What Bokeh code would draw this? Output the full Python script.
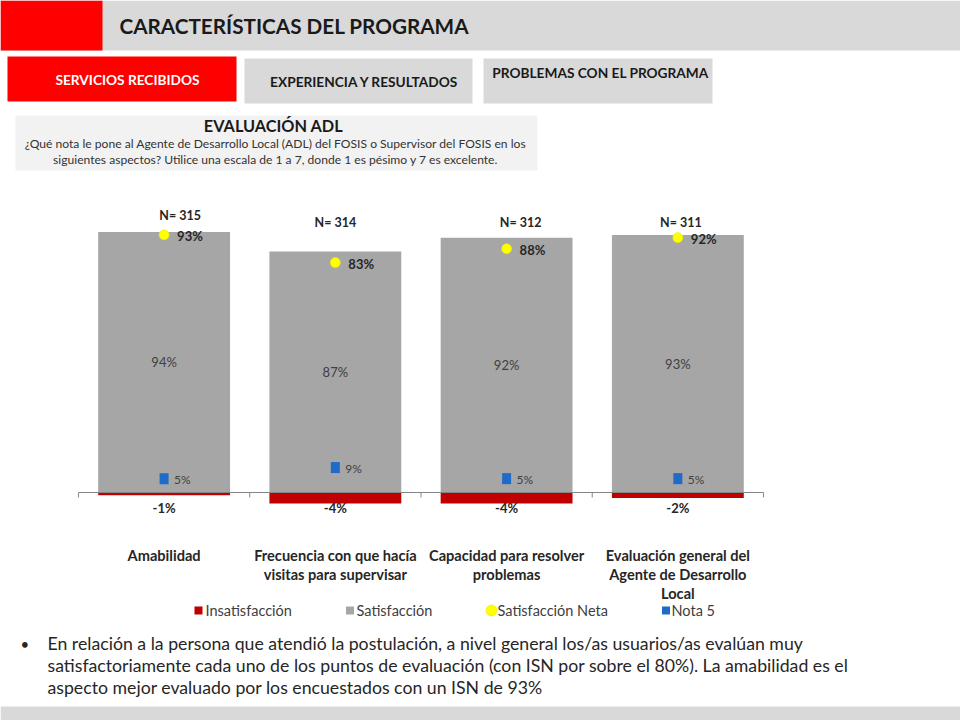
from bokeh.plotting import figure
from bokeh.models import Range1d
from bokeh.core.properties import value
from bokeh.embed import file_html
from bokeh.resources import INLINE

# ---------------- data ----------------
categories = ["Amabilidad",
              "Frecuencia con que hacía\nvisitas para supervisar",
              "Capacidad para resolver\nproblemas",
              "Evaluación general del\nAgente de Desarrollo\nLocal"]
insatisfaccion = [-1, -4, -4, -2]
satisfaccion = [94, 87, 92, 93]
satisfaccion_neta = [93, 83, 88, 92]
nota5 = [5, 9, 5, 5]
n_casos = [315, 314, 312, 311]
legend_labels = ["Insatisfacción", "Satisfacción", "Satisfacción Neta", "Nota 5"]

# ---------------- styles ----------------
RED = "#C00000"
GREY_BAR = "#A6A6A6"
YELLOW = "#FFFF00"
BLUE = "#1F6BC7"
BAND = "#D9D9D9"
FONT = value("Lato")
TXT = "#262626"

W, H = 960, 720
p = figure(width=W, height=H, output_backend="svg", toolbar_location=None,
           x_range=Range1d(0, W), y_range=Range1d(H, 0),
           min_border=0, outline_line_color=None, background_fill_color="white",
           border_fill_color="white")
p.axis.visible = False
p.grid.visible = False

# chart scales: percent axis (zero at y=492 px, 2.77 px per %) and category index
PX = 2.77
ZERO = 492
p.extra_y_ranges = {"pct": Range1d(-(H - ZERO) / PX, ZERO / PX)}
C0, CW = 163.6, 171.25
p.extra_x_ranges = {"cat": Range1d(-C0 / CW, (W - C0) / CW)}

def txt(x, y, s, size, bold=False, color=TXT, align="left", baseline="middle", **kw):
    p.text(x=[x], y=[y], text=[s], text_font=FONT, text_font_size=value(size),
           text_font_style="bold" if bold else "normal", text_color=color,
           text_align=align, text_baseline=baseline, **kw)

# ---------------- slide decoration ----------------
p.quad(left=[0], right=[960], top=[0], bottom=[50], fill_color=BAND, line_color=None)
p.quad(left=[0], right=[102], top=[0], bottom=[50], fill_color="#FF0000", line_color=None)
txt(119, 25, "CARACTERÍSTICAS DEL PROGRAMA", "20.7px", bold=True, color="#1a1a1a")

p.quad(left=[7], right=[236], top=[56], bottom=[101], fill_color="#FF0000", line_color=None)
txt(127, 79, "SERVICIOS RECIBIDOS", "13.7px", bold=True, color="white", align="center")
p.quad(left=[244], right=[472], top=[58], bottom=[103], fill_color=BAND, line_color=None)
txt(364, 81, "EXPERIENCIA Y RESULTADOS", "13.7px", bold=True, color="#1a1a1a", align="center")
p.quad(left=[483], right=[712], top=[58], bottom=[103], fill_color=BAND, line_color=None)
txt(600, 72, "PROBLEMAS CON EL PROGRAMA", "13.7px", bold=True, color="#1a1a1a", align="center")

p.quad(left=[15], right=[537], top=[115], bottom=[170], fill_color="#F2F2F2", line_color=None)
txt(273, 125, "EVALUACIÓN ADL", "16.3px", bold=True, color="#1a1a1a", align="center")
txt(275, 143, "¿Qué nota le pone al Agente de Desarrollo Local (ADL) del FOSIS o Supervisor del FOSIS en los",
    "12.1px", color="#333333", align="center")
txt(275, 159, "siguientes aspectos? Utilice una escala de 1 a 7, donde 1 es pésimo y 7 es excelente.",
    "12.1px", color="#333333", align="center")

# ---------------- chart ----------------
idx = list(range(len(categories)))
CR = dict(x_range_name="cat", y_range_name="pct")

p.vbar(x=idx, bottom=0, top=satisfaccion, width=0.77, fill_color=GREY_BAR, line_color=None, **CR)
p.vbar(x=idx, bottom=insatisfaccion, top=0, width=0.77, fill_color=RED, line_color=None, **CR)

# category axis line and ticks
nb = len(categories) + 1
p.segment(x0=[-0.5], y0=[0], x1=[len(categories) - 0.5], y1=[0], line_color="#868686", line_width=1, **CR)
p.segment(x0=[i - 0.5 for i in range(nb)], y0=[ZERO] * nb,
          x1=[i - 0.5 for i in range(nb)], y1=[ZERO + 5] * nb,
          line_color="#868686", line_width=1, x_range_name="cat")

# satisfaction labels (middle of bar)
p.text(x=idx, y=[v / 2 for v in satisfaccion], text=[f"{v}%" for v in satisfaccion],
       text_font=FONT, text_font_size=value("13px"), text_color="#404040",
       text_align="center", text_baseline="middle", **CR)

# insatisfaction labels (below axis)
p.text(x=idx, y=[0] * len(idx), text=[f"{v}%" for v in insatisfaccion],
       text_font=FONT, text_font_size=value("13px"), text_font_style="bold", text_color=TXT,
       text_align="center", text_baseline="middle", y_offset=15, **CR)

# Satisfacción Neta points
p.scatter(x=idx, y=satisfaccion_neta, marker="circle", size=10, fill_color=YELLOW,
          line_color="#EAEA00", line_width=0.6, **CR)
p.text(x=idx, y=satisfaccion_neta, text=[f"{v}%" for v in satisfaccion_neta],
       text_font=FONT, text_font_size=value("13px"), text_font_style="bold", text_color=TXT,
       text_align="left", text_baseline="middle", x_offset=13, y_offset=1, **CR)

# Nota 5 points
p.rect(x=idx, y=nota5, width=9, height=11, width_units="screen", height_units="screen",
       fill_color=BLUE, line_color=None, **CR)
p.text(x=idx, y=nota5, text=[f"{v}%" for v in nota5],
       text_font=FONT, text_font_size=value("12px"), text_color="#404040",
       text_align="left", text_baseline="middle", x_offset=10, y_offset=1, **CR)

# N= labels
n_dx = [16, 0, 14, 3]
n_y = [215, 222, 222, 222]
p.text(x=idx, y=n_y, text=[f"N= {v}" for v in n_casos], x_offset=n_dx,
       text_font=FONT, text_font_size=value("12.5px"), text_font_style="bold", text_color=TXT,
       text_align="center", text_baseline="middle", x_range_name="cat")

# category labels
p.text(x=idx, y=[0] * len(idx), text=categories,
       text_font=FONT, text_font_size=value("14.6px"), text_font_style="bold", text_color=TXT,
       text_align="center", text_baseline="top", text_line_height=1.13, y_offset=54, **CR)

# legend
LY = 610
p.rect(x=[198], y=[LY], width=8, height=8, fill_color=RED, line_color=None)
txt(205, LY, legend_labels[0], "14.5px", color="#404040")
p.rect(x=[349.5], y=[LY], width=8, height=8, fill_color=GREY_BAR, line_color=None)
txt(356, LY, legend_labels[1], "14.5px", color="#404040")
p.scatter(x=[491], y=[LY], marker="circle", size=11, fill_color=YELLOW, line_color="#EAEA00", line_width=0.6)
txt(497, LY, legend_labels[2], "14.5px", color="#404040")
p.rect(x=[665.5], y=[LY], width=8, height=8, fill_color=BLUE, line_color=None)
txt(671, LY, legend_labels[3], "14.5px", color="#404040")

# ---------------- bottom commentary ----------------
txt(20, 643, "•", "15px", color=TXT)
lines = ["En relación a la persona que atendió la postulación, a nivel general los/as usuarios/as evalúan muy",
         "satisfactoriamente cada uno de los puntos de evaluación (con ISN por sobre el 80%). La amabilidad es el",
         "aspecto mejor evaluado por los encuestados con un ISN de 93%"]
for i, s in enumerate(lines):
    txt(47, 643 + 22 * i, s, "17.7px", color=TXT)

p.quad(left=[0], right=[960], top=[706], bottom=[720], fill_color=BAND, line_color=None)

open("out.html", "w").write(file_html(p, INLINE))
